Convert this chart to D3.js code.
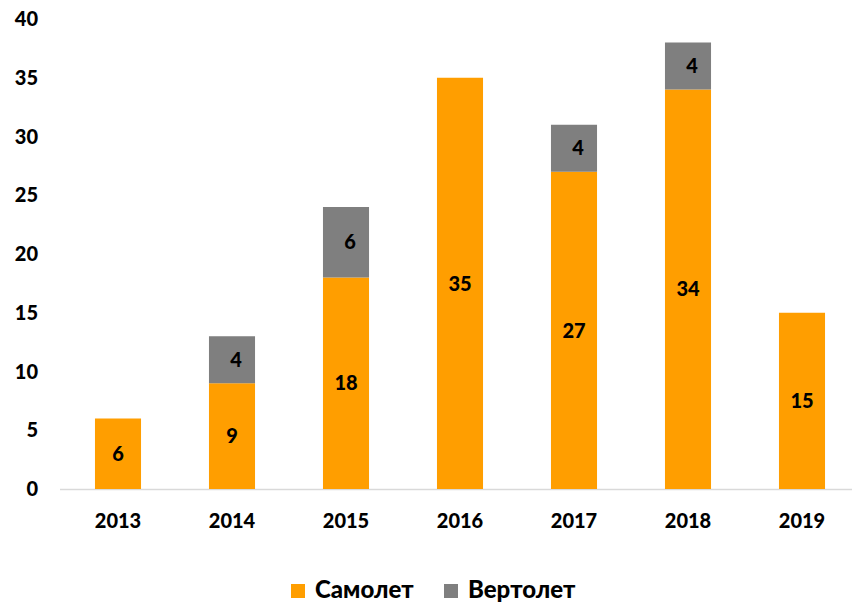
<!DOCTYPE html>
<meta charset="utf-8">
<style>
body { margin: 0; background: #fff; }
text { font-family: Lato, "Open Sans", sans-serif; font-weight: 900; fill: #000; }
</style>
<body>
<svg width="852" height="606"></svg>
<script src="https://cdn.jsdelivr.net/npm/d3@7"></script>
<script>
// data
var years = ["2013", "2014", "2015", "2016", "2017", "2018", "2019"];
var planes = [6, 9, 18, 35, 27, 34, 15];      // Самолет
var helis  = [0, 4, 6, 0, 4, 4, 0];           // Вертолет
var yTicks = [0, 5, 10, 15, 20, 25, 30, 35, 40];
var seriesNames = ["Самолет", "Вертолет"];
var seriesColors = ["#ff9e00", "#7f7f7f"];

var svg = d3.select("svg");

var x = d3.scaleBand().domain(years).range([61, 859]).paddingInner(0.596).paddingOuter(0.298);
var y = d3.scaleLinear().domain([0, 40]).range([489, 19]);

var rows = years.map(function(yr, i) { return {year: yr, p: planes[i], h: helis[i]}; });
var stack = d3.stack().keys(["p", "h"])(rows);

// baseline
svg.append("line")
    .attr("x1", 60).attr("x2", 852)
    .attr("y1", y(0) + 0.5).attr("y2", y(0) + 0.5)
    .attr("stroke", "#d9d9d9").attr("stroke-width", 1.5);

// y tick labels
svg.append("g").selectAll("text")
    .data(yTicks).enter().append("text")
    .attr("x", 38).attr("y", function(d) { return y(d); })
    .attr("dy", "0.36em")
    .attr("text-anchor", "end")
    .style("font-size", "20px")
    .text(function(d) { return d; });

// x labels
svg.append("g").selectAll("text")
    .data(years).enter().append("text")
    .attr("x", function(d) { return x(d) + x.bandwidth() / 2; })
    .attr("y", 528)
    .attr("text-anchor", "middle")
    .style("font-size", "20px")
    .text(function(d) { return d; });

// stacked bars
stack.forEach(function(layer, k) {
    var g = svg.append("g");
    var segs = layer.filter(function(d) { return d[1] - d[0] > 0; });
    g.selectAll("rect").data(segs).enter().append("rect")
        .attr("x", function(d) { return x(d.data.year); })
        .attr("width", x.bandwidth())
        .attr("y", function(d) { return y(d[1]); })
        .attr("height", function(d) { return y(d[0]) - y(d[1]); })
        .attr("fill", seriesColors[k]);
    g.selectAll("text").data(segs).enter().append("text")
        .attr("x", function(d) { return x(d.data.year) + x.bandwidth() / 2 + (k == 1 ? 4 : 0); })
        .attr("y", function(d) { return (y(d[0]) + y(d[1])) / 2; })
        .attr("dy", "0.36em")
        .attr("text-anchor", "middle")
        .style("font-size", "20px")
        .text(function(d) { return d[1] - d[0]; });
});

// legend
var legend = svg.append("g");
var legX = [291, 444];
seriesNames.forEach(function(name, i) {
    legend.append("rect")
        .attr("x", legX[i]).attr("y", 584)
        .attr("width", 14).attr("height", 14)
        .attr("fill", seriesColors[i]);
    legend.append("text")
        .attr("x", legX[i] + 24).attr("y", 598)
        .style("font-size", "24px")
        .text(name);
});
</script>
</body>
